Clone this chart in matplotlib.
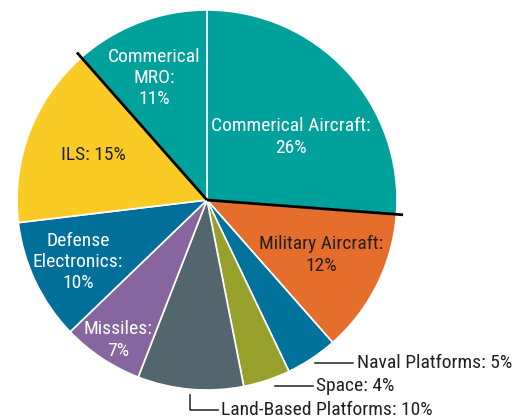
import matplotlib

matplotlib.use("Agg")

import matplotlib.pyplot as plt
import numpy as np
from matplotlib import font_manager

segments = [
    "Commerical Aircraft", "Military Aircraft", "Naval Platforms", "Space",
    "Land-Based Platforms", "Missiles", "Defense Electronics", "ILS", "Commerical MRO",
]
# slice sizes as drawn (labels show the rounded figures)
shares = [26.2, 12.3, 4.4, 4.0, 9.0, 6.9, 10.3, 15.4, 11.5]
colors = ["#00a19a", "#e56e2c", "#00729c", "#96a02a", "#53666d",
          "#8766a0", "#00709a", "#f9cb24", "#00a19a"]
inside_labels = {
    "Commerical Aircraft": "Commerical Aircraft:\n26%",
    "Military Aircraft": "Military Aircraft:\n12%",
    "Missiles": "Missiles:\n7%",
    "Defense Electronics": "Defense\nElectronics:\n10%",
    "ILS": "ILS: 15%",
    "Commerical MRO": "Commerical\nMRO:\n11%",
}
outside_labels = {
    "Naval Platforms": "Naval Platforms: 5%",
    "Space": "Space: 4%",
    "Land-Based Platforms": "Land-Based Platforms: 10%",
}

# pick a narrow face if one is around
names = {f.name for f in font_manager.fontManager.ttflist}
family, stretch = "DejaVu Sans", "condensed"
for cand in ["Roboto Condensed", "Liberation Sans Narrow", "Open Sans Condensed"]:
    if cand in names:
        family, stretch = cand, "normal"
        break

W, H = 521, 419
cx, cy, r = 207, H - 200, 190
dark = "#231f20"

fig = plt.figure(figsize=(W / 100, H / 100), dpi=100)
ax = fig.add_axes([0, 0, 1, 1])

wedges, _ = ax.pie(shares, colors=colors, startangle=90, counterclock=False,
                   center=(cx, cy), radius=r,
                   wedgeprops=dict(edgecolor="white", linewidth=1.2))
ax.set_xlim(0, W)
ax.set_ylim(0, H)
ax.axis("off")

# slice boundary angles (degrees, math convention)
bounds = 90 - 360 * np.cumsum([0] + shares) / sum(shares)
mids = (bounds[:-1] + bounds[1:]) / 2

# black divider lines: after Commerical Aircraft and after ILS
for idx in [1, 8]:
    a = np.radians(bounds[idx])
    ax.plot([cx, cx + 1.035 * r * np.cos(a)], [cy, cy + 1.035 * r * np.sin(a)],
            color="black", lw=2, solid_capstyle="butt", zorder=5)

text_kw = dict(family=family, fontstretch=stretch, fontsize=14,
               ha="center", va="center", linespacing=1.25)
inside_pos = {
    "Commerical Aircraft": (291, 137),
    "Military Aircraft": (321, 255),
    "Missiles": (118, 340),
    "Defense Electronics": (78, 262),
    "ILS": (93, 155),
    "Commerical MRO": (154, 78),
}
for name, label in inside_labels.items():
    x, y = inside_pos[name]
    c = dark if name in ("Military Aircraft", "ILS") else "white"
    ax.text(x, H - y, label, color=c, **text_kw)

# outside labels with leader lines
lead_kw = dict(color=dark, lw=1.1, zorder=4)
out_kw = dict(family=family, fontstretch=stretch, fontsize=14, color=dark,
              ha="left", va="center")

i = segments.index("Naval Platforms")
a = np.radians(mids[i])
x0, y0 = cx + 1.03 * r * np.cos(a), cy + 1.03 * r * np.sin(a)
ax.plot([x0, 353], [y0, y0], **lead_kw)
ax.text(357, y0, outside_labels["Naval Platforms"], **out_kw)

i = segments.index("Space")
a = np.radians(mids[i])
x0, y0 = cx + 1.03 * r * np.cos(a), cy + 1.03 * r * np.sin(a)
ax.plot([x0 + 6, 313], [y0, y0], **lead_kw)
ax.text(316, y0, outside_labels["Space"], **out_kw)

i = segments.index("Land-Based Platforms")
a = np.radians(mids[i])
x0, y0 = cx + 1.03 * r * np.cos(a), cy + 1.03 * r * np.sin(a)
ax.plot([x0, x0, 218], [y0, H - 410, H - 410], **lead_kw)
ax.text(221, H - 410, outside_labels["Land-Based Platforms"], **out_kw)

fig.savefig("out.png", dpi=100)
